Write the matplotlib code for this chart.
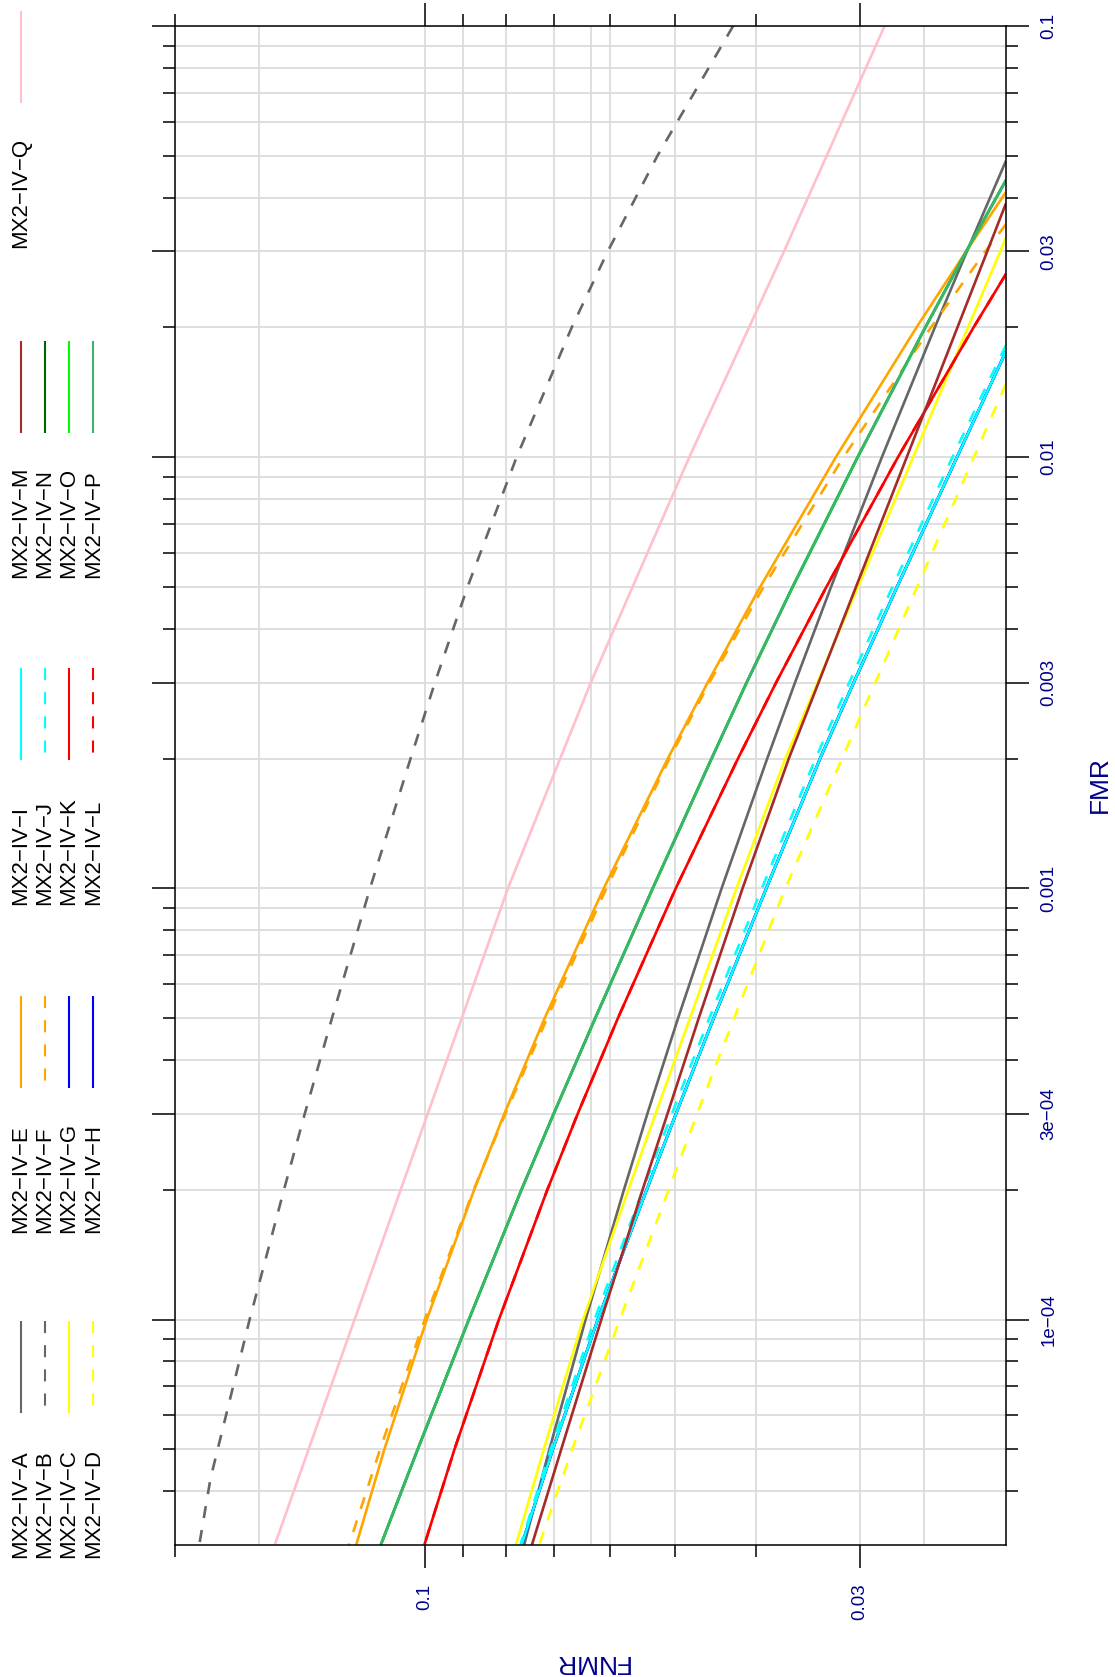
import matplotlib
matplotlib.use("Agg")
import matplotlib.pyplot as plt
from matplotlib.lines import Line2D
from matplotlib.ticker import FixedLocator, FixedFormatter, NullFormatter

plt.rcParams['font.family'] = ['Liberation Sans', 'DejaVu Sans']

# ---------------- data (FMR, FNMR) ----------------
names = ['MX2\u2212IV\u2212A', 'MX2\u2212IV\u2212B', 'MX2\u2212IV\u2212C', 'MX2\u2212IV\u2212D',
         'MX2\u2212IV\u2212E', 'MX2\u2212IV\u2212F', 'MX2\u2212IV\u2212G', 'MX2\u2212IV\u2212H',
         'MX2\u2212IV\u2212I', 'MX2\u2212IV\u2212J', 'MX2\u2212IV\u2212K', 'MX2\u2212IV\u2212L',
         'MX2\u2212IV\u2212M', 'MX2\u2212IV\u2212N', 'MX2\u2212IV\u2212O', 'MX2\u2212IV\u2212P',
         'MX2\u2212IV\u2212Q']
colors = ['#666666', '#666666', '#FFFF00', '#FFFF00',
          '#FFA500', '#FFA500', '#0000FF', '#0000FF',
          '#00FFFF', '#00FFFF', '#FF0000', '#FF0000',
          '#A52A2A', '#006400', '#00FF00', '#3CB371',
          '#FFC0CB']
dashed = [False, True, False, True,
          False, True, False, False,
          False, True, False, True,
          False, False, False, False,
          False]

fmr_A = [0.0487, 0.03, 0.02, 0.01, 0.005, 0.003, 0.002, 0.001, 5e-4, 3e-4, 2e-4, 1e-4, 5e-5, 3e-5]
fnmr_A = [0.0200, 0.02229, 0.02436, 0.02821, 0.03248, 0.03589, 0.03876, 0.04398, 0.04962,
          0.05403, 0.05765, 0.06412, 0.07087, 0.07603]

fmr_B = [0.1, 0.05, 0.03, 0.02, 0.01, 0.005, 0.003, 0.002, 0.001, 5e-4, 3e-4, 2e-4, 1e-4,
         5e-5, 4.28e-5, 3e-5]
fnmr_B = [0.0426, 0.05254, 0.06030, 0.06662, 0.07762, 0.08893, 0.09734, 0.10413, 0.11651,
          0.12946, 0.13960, 0.14788, 0.16265, 0.17770, 0.18126, 0.18701]

fmr_C = [0.0323, 0.03, 0.02, 0.01, 0.005, 0.003, 0.002, 0.001, 5e-4, 3e-4, 2e-4, 1e-4, 5e-5, 3e-5]
fnmr_C = [0.0200, 0.02032, 0.02222, 0.02587, 0.03014, 0.03372, 0.03686, 0.04221, 0.04801,
          0.05281, 0.05695, 0.06457, 0.07198, 0.07777]

fmr_D = [0.0148, 0.01, 0.005, 0.003, 0.002, 0.001, 5e-4, 3e-4, 2e-4, 1e-4, 5e-5, 3e-5]
fnmr_D = [0.0200, 0.02186, 0.02559, 0.02873, 0.03151, 0.03687, 0.04249, 0.04707, 0.05093,
          0.05832, 0.06653, 0.07294]

fmr_E = [0.0412, 0.03, 0.02, 0.01, 0.005, 0.003, 0.002, 0.001, 5e-4, 3e-4, 2e-4, 1e-4, 5e-5, 3e-5]
fnmr_E = [0.0200, 0.02234, 0.02563, 0.03205, 0.03953, 0.04572, 0.05105, 0.06097, 0.07181,
          0.08031, 0.08730, 0.09956, 0.11197, 0.12106]

fmr_F = [0.0347, 0.03, 0.02, 0.01, 0.005, 0.003, 0.002, 0.001, 5e-4, 3e-4, 2e-4, 1e-4, 5e-5, 3e-5]
fnmr_F = [0.0200, 0.02118, 0.02462, 0.03138, 0.03916, 0.04550, 0.05082, 0.06052, 0.07132,
          0.08007, 0.08742, 0.10012, 0.11330, 0.12350]

fmr_I = [0.0176, 0.01, 0.005, 0.003, 0.002, 0.001, 5e-4, 3e-4, 2e-4, 1e-4, 5e-5, 3e-5]
fnmr_I = [0.0200, 0.02291, 0.02705, 0.03050, 0.03348, 0.03886, 0.04496, 0.04991, 0.05413,
          0.06198, 0.07021, 0.07655]

fmr_J = [0.0182, 0.01, 0.005, 0.003, 0.002, 0.001, 5e-4, 3e-4, 2e-4, 1e-4, 5e-5, 3e-5]
fnmr_J = [0.0200, 0.02320, 0.02740, 0.03088, 0.03390, 0.03934, 0.04550, 0.05048, 0.05470,
          0.06255, 0.07060, 0.07680]

# G and H lie underneath I in the reference
fmr_G, fnmr_G = fmr_I, fnmr_I
fmr_H, fnmr_H = fmr_I, fnmr_I

fmr_K = [0.0266, 0.02, 0.01, 0.005, 0.003, 0.002, 0.001, 5e-4, 3e-4, 2e-4, 1e-4, 5e-5, 3e-5]
fnmr_K = [0.0200, 0.02188, 0.02698, 0.03290, 0.03782, 0.04203, 0.04994, 0.05862, 0.06553,
          0.07128, 0.08152, 0.09220, 0.10023]
fmr_L, fnmr_L = fmr_K, fnmr_K

fmr_M = [0.0388, 0.03, 0.02, 0.01, 0.005, 0.003, 0.002, 0.001, 5e-4, 3e-4, 2e-4, 1e-4, 5e-5, 3e-5]
fnmr_M = [0.0200, 0.02107, 0.02288, 0.02633, 0.03031, 0.03362, 0.03651, 0.04150, 0.04686,
          0.05110, 0.05475, 0.06138, 0.06859, 0.07440]

fmr_P = [0.0439, 0.03, 0.02, 0.01, 0.005, 0.003, 0.002, 0.001, 5e-4, 3e-4, 2e-4, 1e-4, 5e-5, 3e-5]
fnmr_P = [0.0200, 0.02233, 0.02501, 0.03017, 0.03613, 0.04104, 0.04522, 0.05323, 0.06242,
          0.07004, 0.07658, 0.08859, 0.10209, 0.11310]
# N and O lie underneath P in the reference
fmr_N, fnmr_N = fmr_P, fnmr_P
fmr_O, fnmr_O = fmr_P, fnmr_P

fmr_Q = [0.1, 0.03, 0.01, 0.003, 0.001, 3e-4, 1e-4, 3e-5]
fnmr_Q = [0.0280, 0.0370, 0.0481, 0.0632, 0.0795, 0.0993, 0.1216, 0.1517]

series_fmr = [fmr_A, fmr_B, fmr_C, fmr_D, fmr_E, fmr_F, fmr_G, fmr_H, fmr_I,
              fmr_J, fmr_K, fmr_L, fmr_M, fmr_N, fmr_O, fmr_P, fmr_Q]
series_fnmr = [fnmr_A, fnmr_B, fnmr_C, fnmr_D, fnmr_E, fnmr_F, fnmr_G, fnmr_H, fnmr_I,
               fnmr_J, fnmr_K, fnmr_L, fnmr_M, fnmr_N, fnmr_O, fnmr_P, fnmr_Q]

fnmr_major = [0.1, 0.03]
fnmr_major_labels = ['0.1', '0.03']
fnmr_minor = [0.2, 0.09, 0.08, 0.07, 0.06, 0.05, 0.04]
fnmr_extra_grid = [10 ** -0.8, 10 ** -1.2, 10 ** -1.6]

fmr_major = [1e-4, 3e-4, 1e-3, 3e-3, 0.01, 0.03, 0.1]
fmr_major_labels = ['1e\u221204', '3e\u221204', '0.001', '0.003', '0.01', '0.03', '0.1']
fmr_minor = [4e-5, 5e-5, 6e-5, 7e-5, 8e-5, 9e-5, 2e-4,
             4e-4, 5e-4, 6e-4, 7e-4, 8e-4, 9e-4, 2e-3,
             4e-3, 5e-3, 6e-3, 7e-3, 8e-3, 9e-3, 0.02,
             0.04, 0.05, 0.06, 0.07, 0.08, 0.09]

# ---------------- figure ----------------
W, H = 1115, 1677
fig = plt.figure(figsize=(W / 100, H / 100), dpi=100)
fig.patch.set_facecolor('white')


def fx(x):
    return x / W


def fy(y):
    return 1 - y / H


left, right, top, bottom = 175, 1006, 26, 1545
ax = fig.add_axes([fx(left), fy(bottom), (right - left) / W, (bottom - top) / H])
ax.set_xscale('log')
ax.set_yscale('log')

navy = '#00008B'
grid_c = '#DCDCDC'

# grid
for v in fnmr_major + fnmr_minor + fnmr_extra_grid:
    ax.axvline(v, color=grid_c, lw=1.3, zorder=0)
for v in fmr_major + fmr_minor:
    ax.axhline(v, color=grid_c, lw=1.3, zorder=0)

LW = 1.9
DASH = (0, (4.6, 4.6))
for fm, fn, c, d in zip(series_fmr, series_fnmr, colors, dashed):
    ax.plot(fn, fm, color=c, lw=LW, linestyle=DASH if d else '-', zorder=2,
            solid_capstyle='butt', dash_capstyle='butt', solid_joinstyle='round')

ax.set_xlim(0.2, 0.02)
ax.set_ylim(3e-5, 0.1)

ax.xaxis.set_major_locator(FixedLocator(fnmr_major))
ax.xaxis.set_major_formatter(FixedFormatter(fnmr_major_labels))
ax.xaxis.set_minor_locator(FixedLocator(fnmr_minor))
ax.xaxis.set_minor_formatter(NullFormatter())
ax.yaxis.set_major_locator(FixedLocator(fmr_major))
ax.yaxis.set_major_formatter(FixedFormatter(fmr_major_labels))
ax.yaxis.set_minor_locator(FixedLocator(fmr_minor))
ax.yaxis.set_minor_formatter(NullFormatter())

ax.tick_params(which='both', direction='out', top=True, bottom=True, left=True, right=True,
               labeltop=False, labelleft=False, labelbottom=True, labelright=True,
               width=1.1, color='black', labelcolor=navy, labelsize=13.5)
ax.tick_params(which='major', length=16.6)
ax.tick_params(which='minor', length=8.6)
ax.tick_params(axis='x', which='major', labelrotation=90, pad=11.3)
ax.tick_params(axis='y', which='major', labelrotation=90, pad=8.2)
for lbl in ax.get_yticklabels():
    lbl.set_va('center')
    lbl.set_ha('left')
for sp in ax.spines.values():
    sp.set_linewidth(1.1)
    sp.set_color('black')

# axis titles
fig.text(fx(1100), fy(785), 'FMR', rotation=90, ha='center', va='center',
         color=navy, fontsize=19)
fig.text(fx(590.5), fy(1662), 'FNMR', rotation=180, ha='center', va='center',
         color=navy, fontsize=19)

# legend (rotated, 5 groups of 4)
group_text_start = [1558, 1233, 905, 578, 248]
row_x = [20.7, 45.0, 69.0, 93.3]
for i, (nm, c, d) in enumerate(zip(names, colors, dashed)):
    g, r = divmod(i, 4)
    x = row_x[r]
    y0 = group_text_start[g]
    ln = Line2D([fx(x), fx(x)], [fy(y0 - 237), fy(y0 - 145)], transform=fig.transFigure,
                color=c, lw=1.5, linestyle=(0, (5.8, 5.8)) if d else '-',
                solid_capstyle='butt', dash_capstyle='butt')
    fig.add_artist(ln)
    fig.text(fx(x), fy(y0), nm, rotation=90, ha='center', va='bottom',
             fontsize=16, color='black')

fig.savefig('out.png', dpi=100, facecolor='white')
